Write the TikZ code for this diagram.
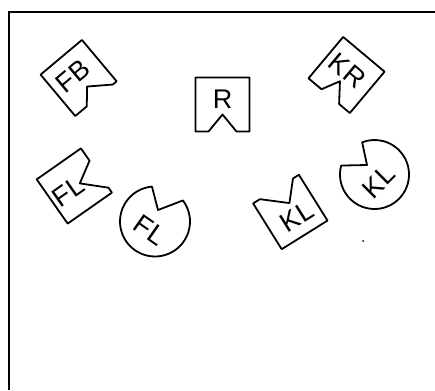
\documentclass[tikz,border=0pt]{standalone}
\usepackage{fontspec}
\setmainfont{Liberation Sans}

\begin{document}
\begin{tikzpicture}[
    x=1pt, y=1pt,
    outline/.style={line width=1.8pt, line join=round},
    tag/.style={font=\fontsize{27}{27}\selectfont, inner sep=0pt},
    frame/.style={line width=2pt}
]
\useasboundingbox (0,0) rectangle (435,390);

% Frame
\draw[frame] (9,0) -- (9,378) -- (435,378);

% Top row
\begin{scope}[shift={(78.6,312)}, rotate=40, transform shape]
\draw[outline] (-27,-27) -- (-12,-27) -- (1,-12) -- (22,-27) -- (27,-27) -- (27,27) -- (-27,27) -- cycle;
\node[tag] (fb) at (-3,5) {F\kern1pt B};
\end{scope}

\begin{scope}[shift={(222.5,285.5)}]
\draw[outline] (-27,-27) -- (-14,-27) -- (0,-10) -- (14,-27) -- (27,-27) -- (27,27) -- (-27,27) -- cycle;
\node[tag] (r) at (0,5) {R};
\end{scope}

\begin{scope}[shift={(346.5,315)}, rotate=-40, transform shape]
\draw[outline] (-27,-27) -- (-10,-27) -- (-1,-9) -- (13,-27) -- (27,-27) -- (27,27) -- (-27,27) -- cycle;
\node[tag] (kr) at (-2,4) {K\kern1pt R};
\end{scope}

% Bottom row
\begin{scope}[shift={(74.3,204)}, rotate=35, transform shape]
\draw[outline] (-27,-27) -- (27,-27) -- (27,-21) -- (6,-1) -- (27,12) -- (27,27) -- (-27,27) -- cycle;
\node[tag] (fla) at (-8,-1) {F\kern1pt L};
\end{scope}

\begin{scope}[shift={(155,168.5)}]
\draw[outline] (95:35) arc[start angle=95, end angle=397, radius=35] -- (3,11.5) -- cycle;
\node[tag, rotate=-35] (flb) at (-5,-9) {F\kern1pt L};
\end{scope}

\begin{scope}[shift={(290.3,178)}, rotate=32, transform shape]
\draw[outline] (-27,-27) -- (27,-27) -- (27,27) -- (20,27) -- (4,8) -- (-19,27) -- (-27,27) -- cycle;
\node[tag] (kla) at (3,-7) {K\kern1pt L};
\end{scope}

\begin{scope}[shift={(374.5,215.5)}]
\draw[outline] (165:34.5) arc[start angle=165, end angle=471, radius=34.5] -- (-7.5,9.5) -- cycle;
\node[tag, rotate=45] (klb) at (4,-7) {K\kern1pt L};
\end{scope}

\fill (363,149) circle (1);

\end{tikzpicture}
\end{document}
